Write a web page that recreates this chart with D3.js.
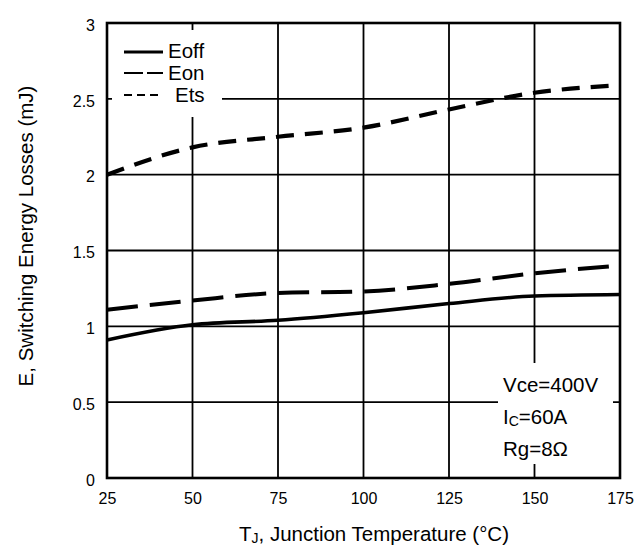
<!DOCTYPE html>
<html>
<head>
<meta charset="utf-8">
<script src="https://cdn.jsdelivr.net/npm/d3@7"></script>
<style>
  html, body { margin: 0; padding: 0; background: #fff; }
  svg { display: block; font-family: "Liberation Sans", Arial, sans-serif; }
</style>
</head>
<body>
<svg id="chart" width="644" height="546"></svg>
<script>
// Junction temperature (°C) sample points
const temps = [25, 50, 75, 100, 125, 150, 175];
// Switching energy losses (mJ)
const eoff = [0.91, 1.01, 1.04, 1.09, 1.15, 1.20, 1.21];
const eon  = [1.11, 1.17, 1.22, 1.23, 1.28, 1.35, 1.40];
const ets  = [2.00, 2.18, 2.25, 2.31, 2.43, 2.54, 2.59];

const xTicks = [25, 50, 75, 100, 125, 150, 175];
const yTicks = [0, 0.5, 1, 1.5, 2, 2.5, 3];
const yTickLabels = ["0", "0.5", "1", "1.5", "2", "2.5", "3"];

const svg = d3.select("#chart");
const plotLeft = 107, plotRight = 620, plotTop = 23, plotBottom = 478;

const x = d3.scaleLinear().domain([25, 175]).range([plotLeft, plotRight]);
const y = d3.scaleLinear().domain([0, 3]).range([plotBottom, plotTop]);

// grid
const grid = svg.append("g").attr("stroke", "#000").attr("stroke-width", 1.8);
grid.selectAll("line.v").data(xTicks.slice(1, -1)).join("line")
  .attr("class", "v")
  .attr("x1", d => x(d)).attr("x2", d => x(d))
  .attr("y1", plotTop).attr("y2", plotBottom);
grid.selectAll("line.h").data(yTicks.slice(1, -1)).join("line")
  .attr("class", "h")
  .attr("x1", plotLeft).attr("x2", plotRight)
  .attr("y1", d => y(d)).attr("y2", d => y(d));

// white panels behind the legend and the test-condition note
svg.append("rect").attr("x", 112).attr("y", 30).attr("width", 110).attr("height", 87).attr("fill", "#fff");
svg.append("rect").attr("x", 498).attr("y", 363).attr("width", 115).attr("height", 101).attr("fill", "#fff");

// plot frame
svg.append("rect")
  .attr("x", plotLeft).attr("y", plotTop)
  .attr("width", plotRight - plotLeft).attr("height", plotBottom - plotTop)
  .attr("fill", "none").attr("stroke", "#000").attr("stroke-width", 2.6);

// axes tick labels
const xAxis = d3.axisBottom(x).tickValues(xTicks).tickSize(0).tickPadding(0);
const gx = svg.append("g").attr("transform", `translate(0,${plotBottom})`).call(xAxis);
gx.select(".domain").remove();
gx.selectAll("text").attr("font-size", 16).attr("font-family", "Liberation Sans, Arial, sans-serif")
  .attr("fill", "#000").attr("y", 26).attr("dy", 0);

const yAxis = d3.axisLeft(y).tickValues(yTicks).tickFormat((d, i) => yTickLabels[i]).tickSize(0).tickPadding(0);
const gy = svg.append("g").attr("transform", `translate(95,0)`).call(yAxis);
gy.select(".domain").remove();
gy.selectAll("text").attr("font-size", 16).attr("font-family", "Liberation Sans, Arial, sans-serif")
  .attr("fill", "#000").attr("x", 0).attr("dy", "0.45em");

// curves
const line = d3.line().x((d, i) => x(temps[i])).y(d => y(d)).curve(d3.curveMonotoneX);
const series = [
  { values: eoff, dash: null, width: 3.6 },
  { values: eon,  dash: "31 12", width: 4 },
  { values: ets,  dash: "18 11", width: 4.2 }
];
svg.append("g").selectAll("path").data(series).join("path")
  .attr("d", d => line(d.values))
  .attr("fill", "none").attr("stroke", "#000")
  .attr("stroke-width", d => d.width)
  .attr("stroke-dasharray", d => d.dash);

// legend
const legend = [
  { name: "Eoff", dash: null, width: 3.2, ly: 52, tx: 168, ty: 58 },
  { name: "Eon",  dash: "19 4", width: 2, ly: 73, tx: 168, ty: 80 },
  { name: "Ets",  dash: "8 5", width: 2, ly: 95, tx: 175, ty: 102 }
];
const lg = svg.append("g");
lg.selectAll("line").data(legend).join("line")
  .attr("x1", 124).attr("x2", 163)
  .attr("y1", d => d.ly).attr("y2", d => d.ly)
  .attr("stroke", "#000").attr("stroke-width", d => d.width)
  .attr("stroke-dasharray", d => d.dash);
lg.selectAll("text").data(legend).join("text")
  .attr("x", d => d.tx).attr("y", d => d.ty)
  .attr("font-size", 20.5).text(d => d.name);

// test conditions
const note = svg.append("g").attr("font-size", 20.5);
note.append("text").attr("x", 503).attr("y", 392).text("Vce=400V");
const ic = note.append("text").attr("x", 503).attr("y", 424);
ic.append("tspan").text("I");
ic.append("tspan").attr("font-size", 14).attr("dy", 2).text("C");
ic.append("tspan").attr("dy", -2).text("=60A");
note.append("text").attr("x", 503).attr("y", 456).text("Rg=8Ω");

// axis titles
const xt = svg.append("text").attr("x", 374).attr("y", 541)
  .attr("text-anchor", "middle").attr("font-size", 20.5);
xt.append("tspan").text("T");
xt.append("tspan").attr("font-size", 14).attr("dy", 2).text("J");
xt.append("tspan").attr("dy", -2).text(", Junction Temperature (°C)");

svg.append("text")
  .attr("transform", "translate(33,236) rotate(-90)")
  .attr("text-anchor", "middle").attr("font-size", 20.5)
  .text("E, Switching Energy Losses (mJ)");
</script>
</body>
</html>
